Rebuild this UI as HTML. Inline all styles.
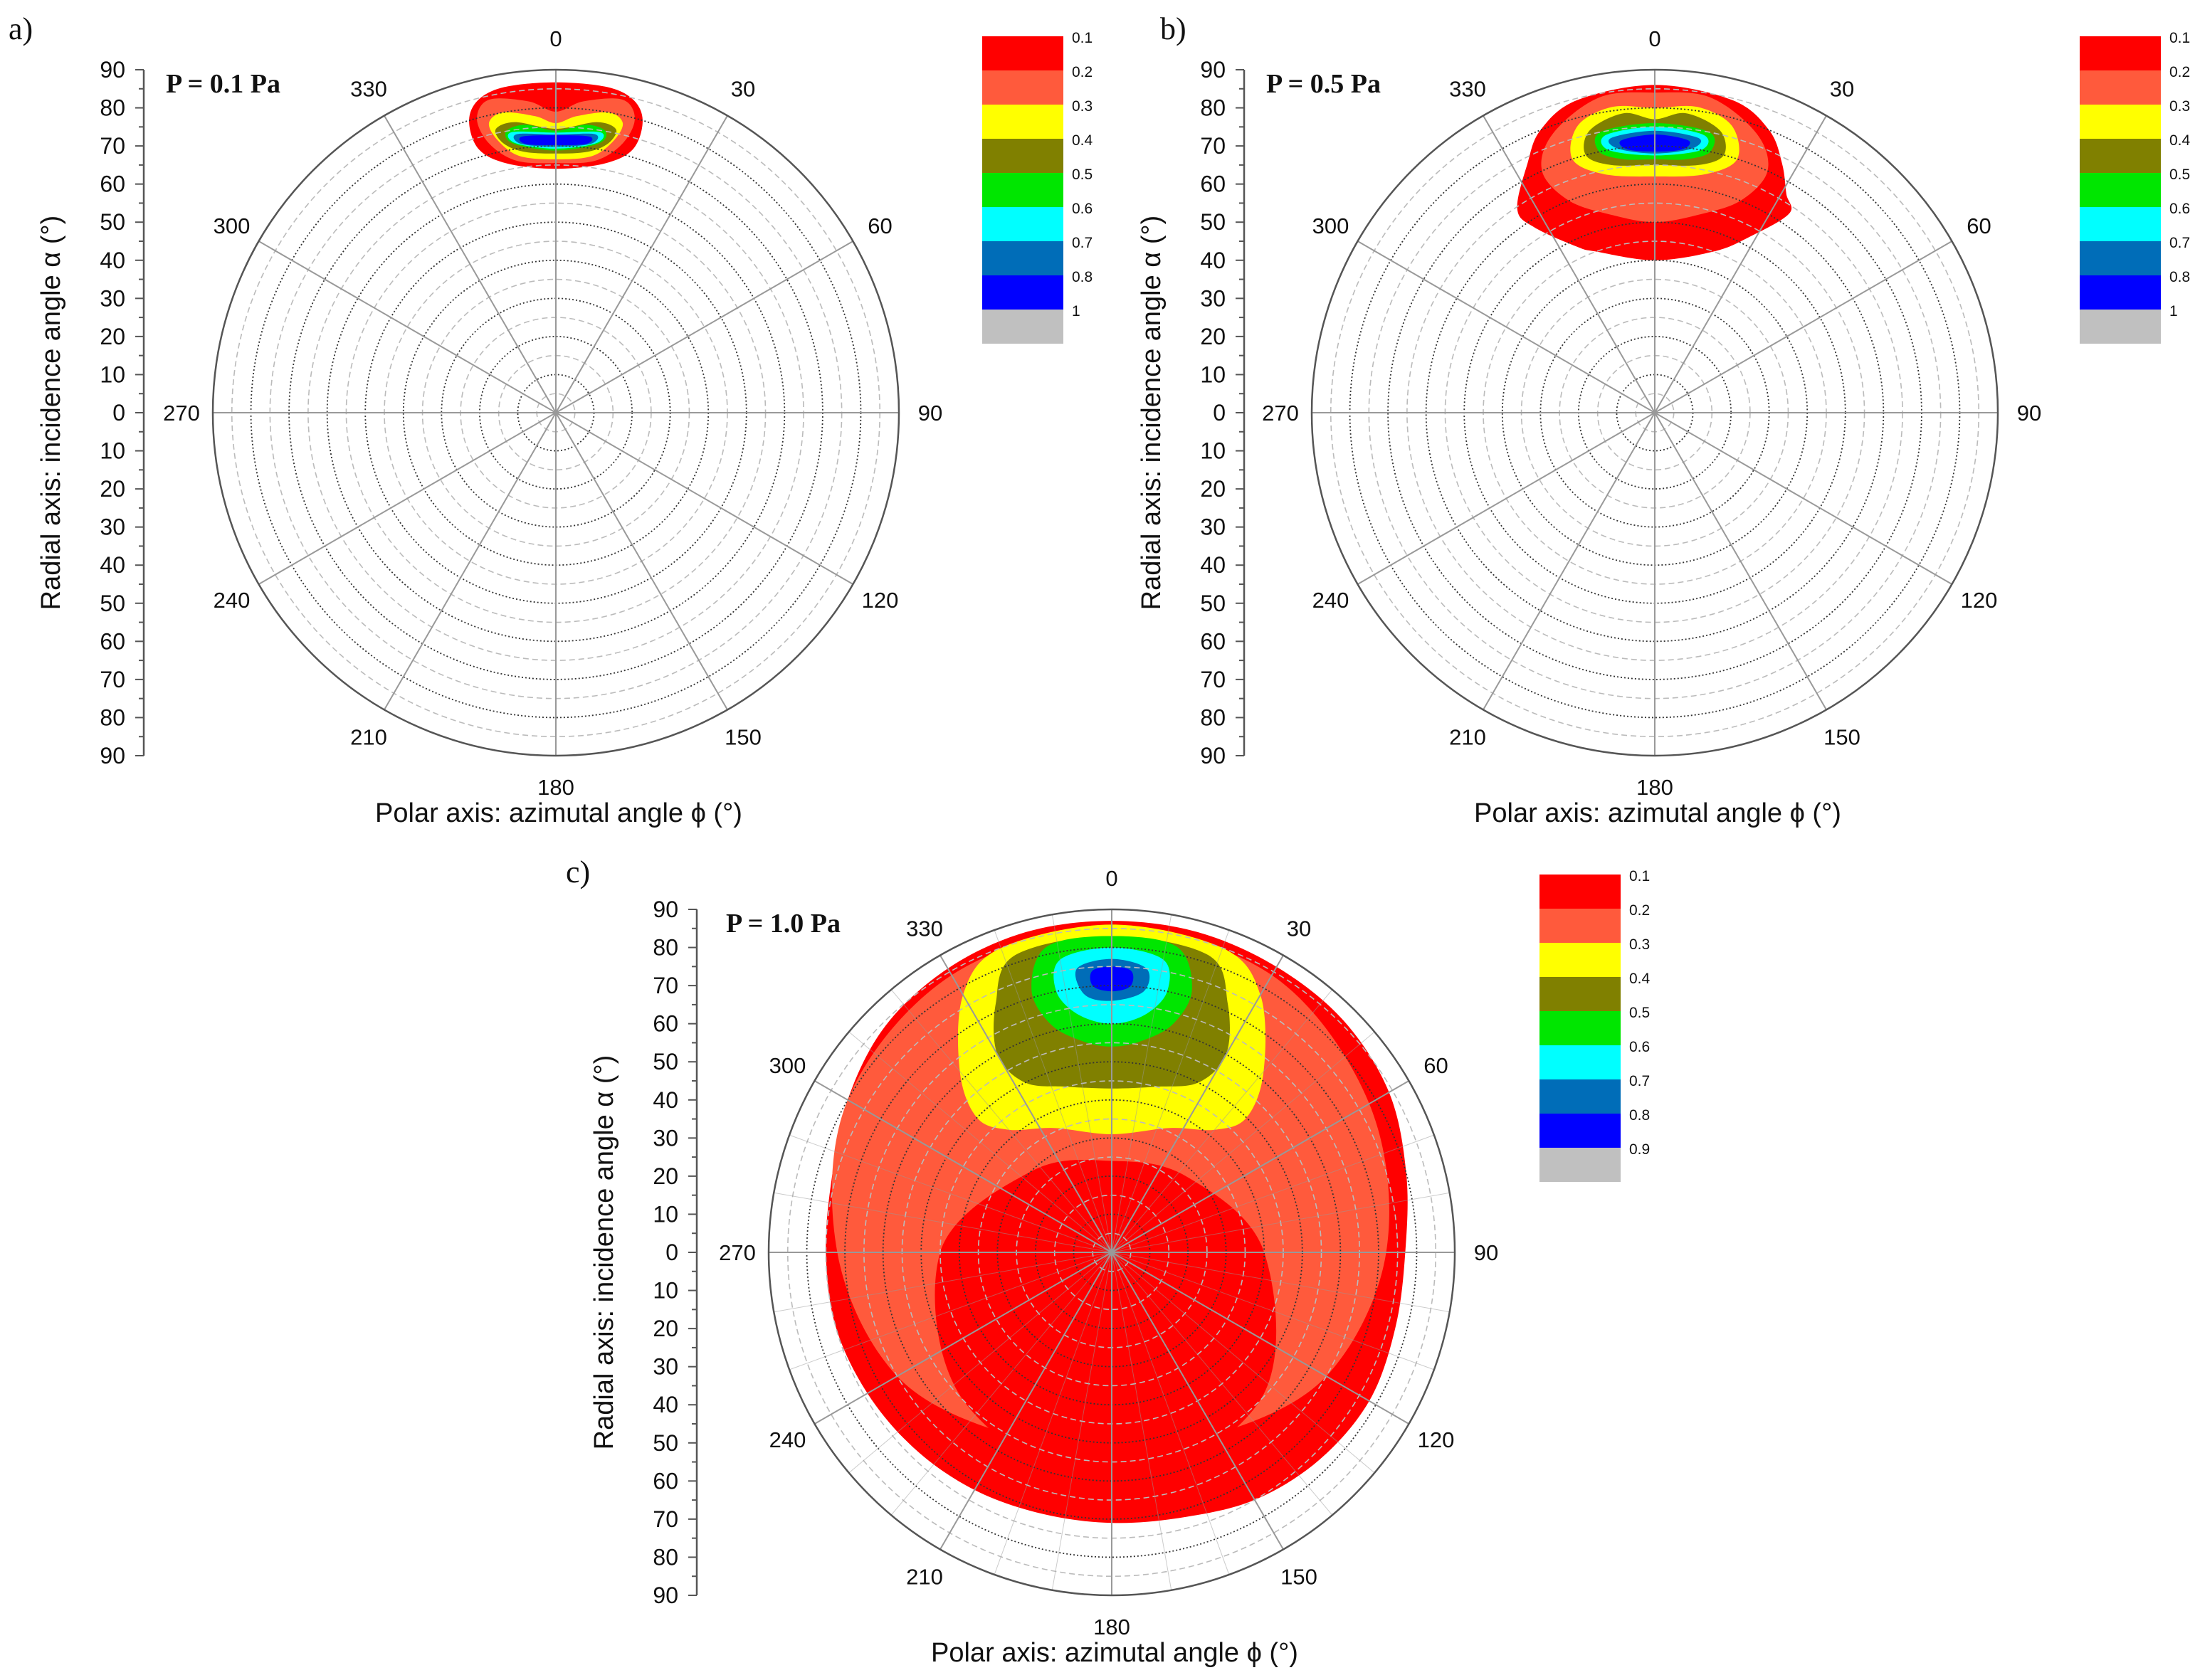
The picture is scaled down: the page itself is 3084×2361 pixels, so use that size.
<!DOCTYPE html>
<html><head><meta charset="utf-8"><style>
html,body{margin:0;padding:0;background:#fff}
svg{display:block}
text{font-family:"Liberation Sans",Arial,sans-serif;fill:#111}
.serif{font-family:"Liberation Serif",serif}
</style></head><body>
<svg id="fig" width="3084" height="2361" viewBox="0 0 3084 2361" xmlns="http://www.w3.org/2000/svg"></svg>
<script>
// ---------- data ----------
const levelColors = ["#ff0000","#ff5a3c","#ffff00","#808000","#00e600","#00ffff","#006db8","#0000ff","#c0c0c0"];
const levelLabelsAB = ["0.1","0.2","0.3","0.4","0.5","0.6","0.7","0.8","1"];
const levelLabelsC = ["0.1","0.2","0.3","0.4","0.5","0.6","0.7","0.8","0.9"];
const radialTicks = [90,80,70,60,50,40,30,20,10,0,10,20,30,40,50,60,70,80,90];
const angleTicks = [0,30,60,90,120,150,180,210,240,270,300,330];

// contours: [levelIndex, [[phi, alpha], ...]]  (drawn in order)
const contoursA = [
 [0, [[0,86.7],[9,86.5],[14,84.5],[16.6,79.7],[16.3,72],[11,66.6],[0,64],[-11,66.6],[-16.3,72],[-16.6,79.7],[-14,84.5],[-9,86.5]]],
 [1, [[0,79],[5,82],[12,84],[15,80],[14,73],[9,67],[0,65.5],[-9,67],[-14,73],[-15,80],[-12,84],[-5,82]]],
 [2, [[0,76],[4,78],[10,80],[13,78],[12,73],[8,68],[0,66.5],[-8,68],[-12,73],[-13,78],[-10,80],[-4,78]]],
 [3, [[0,74.5],[8,77],[12,76],[11,72],[7,69],[0,68],[-7,69],[-11,72],[-12,76],[-8,77]]],
 [4, [[0,74],[6,76],[10,75],[9,71.5],[0,68.8],[-9,71.5],[-10,75],[-6,76]]],
 [5, [[0,73.5],[9,74.5],[8.5,71.5],[0,69.3],[-8.5,71.5],[-9,74.5]]],
 [6, [[0,73],[8,73.8],[7.5,71.2],[0,69.8],[-7.5,71.2],[-8,73.8]]],
 [7, [[0,72.8],[7,73],[6.5,71],[0,70.2],[-6.5,71],[-7,73]]]
];
const contoursB = [
 [0, [[0,86],[14,84.5],[22,80],[27,73.5],[31,67],[34,63],[28,52],[20,45],[0,40],[-20,45],[-25,48],[-33,58],[-34,64.5],[-27,73.5],[-22,80],[-14,84.5]]],
 [1, [[0,84],[10,84],[20,78],[25,70],[22,60],[12,53],[0,50],[-12,53],[-22,60],[-25,70],[-20,78],[-10,84]]],
 [2, [[0,80],[8,81],[15,78],[18,70],[12,64],[0,62],[-12,64],[-18,70],[-15,78],[-8,81]]],
 [3, [[0,77],[6,79],[13,76],[15,70],[10,66],[0,65],[-10,66],[-15,70],[-13,76],[-6,79]]],
 [4, [[0,76],[11,75],[12,70],[7,67],[0,66.5],[-7,67],[-12,70],[-11,75]]],
 [5, [[0,75],[10,74],[10,70],[0,67.5],[-10,70],[-10,74]]],
 [6, [[0,74],[9,73],[8,70],[0,68],[-8,70],[-9,73]]],
 [7, [[0,73],[7,72],[6,69.5],[0,68.5],[-6,69.5],[-7,72]]]
];
const contoursC = [
 [0, [[0,87],[15,87],[30,86.5],[45,86],[60,84],[75,80],[90,77],[105,77],[120,78],[135,77],[150,75],[165,72],[180,71],[195,71],[210,72],[225,73],[240,74],[255,75],[270,75],[285,76],[300,80],[315,84],[330,86],[345,87]]],
 [1, [[0,85],[30,84],[60,78],[90,72],[120,65],[150,55],[180,50],[210,55],[240,65],[270,72],[300,80],[330,84]]],
 [0, [[0,24],[45,28],[90,40],[135,55],[180,62],[225,55],[270,45],[315,30]]],
 [2, [[0,86],[20,85],[30,78],[40,62],[45,50],[40,42],[25,36],[0,31],[-25,36],[-40,42],[-45,50],[-40,62],[-30,78],[-20,85]]],
 [3, [[0,83],[18,82],[25,72],[30,60],[27,50],[15,45],[0,43],[-15,45],[-27,50],[-30,60],[-25,72],[-18,82]]],
 [4, [[0,83],[12,82],[17,72],[15,62],[8,56],[0,54],[-8,56],[-15,62],[-17,72],[-12,82]]],
 [5, [[0,80],[10,78],[12,70],[8,63],[0,60],[-8,63],[-12,70],[-10,78]]],
 [6, [[0,77],[7,75],[7,69],[0,66],[-6,68],[-7,75]]],
 [7, [[0,75],[4,74],[4,70],[0,68.5],[-4,70],[-4,74]]]
];

// ---------- drawing ----------
const NS = "http://www.w3.org/2000/svg";
const svg = document.getElementById("fig");
function el(tag, attrs, parent, txt){
  const e = document.createElementNS(NS, tag);
  for (const k in attrs) e.setAttribute(k, attrs[k]);
  if (txt !== undefined) e.textContent = txt;
  (parent || svg).appendChild(e);
  return e;
}
const R = 482;
function polar(cx, cy, phi, alpha){
  const r = alpha / 90 * R, a = phi * Math.PI / 180;
  return [cx + r * Math.sin(a), cy - r * Math.cos(a)];
}
function smoothPath(pts){
  const n = pts.length; let d = "M" + pts[0][0].toFixed(1) + "," + pts[0][1].toFixed(1);
  for (let i = 0; i < n; i++){
    const p0 = pts[(i - 1 + n) % n], p1 = pts[i], p2 = pts[(i + 1) % n], p3 = pts[(i + 2) % n];
    const c1 = [p1[0] + (p2[0] - p0[0]) / 6, p1[1] + (p2[1] - p0[1]) / 6];
    const c2 = [p2[0] - (p3[0] - p1[0]) / 6, p2[1] - (p3[1] - p1[1]) / 6];
    d += "C" + c1.map(v => v.toFixed(1)).join(",") + " " + c2.map(v => v.toFixed(1)).join(",") + " " + p2[0].toFixed(1) + "," + p2[1].toFixed(1);
  }
  return d + "Z";
}

function drawPanel(p){
  const g = el("g", {});
  
  
  const cx = p.cx, cy = p.cy;

  const hm = el("g", {}, g);
  
  
  p.contours.forEach((c, i) => {
    const pts = c[1].map(q => polar(cx, cy, q[0], q[1]));
    const path = el("path", {d: smoothPath(pts), fill: levelColors[c[0]], stroke: "none"}, hm);
    
    
  });

  for (let k = 1; k <= 17; k++){
    const rr = k * 5 / 90 * R;
    const major = k % 2 === 0;
    const c = el("circle", {cx, cy, r: rr, fill: "none",
      stroke: major ? "#333" : "#bbb", "stroke-width": major ? 1.8 : 1.6,
      "stroke-dasharray": major ? "2 3" : "8 5"}, g);
    
    
  }
  if (p.fineSpokes){
    for (let a = 0; a < 360; a += 10){
      if (a % 30 === 0) continue;
      const e = polar(cx, cy, a, 90);
      const ln = el("line", {x1: cx, y1: cy, x2: e[0], y2: e[1], stroke: "#999", "stroke-width": 1, opacity: 0.5}, g);
      
      
    }
  }
  angleTicks.forEach(a => {
    const e = polar(cx, cy, a, 90);
    const ln = el("line", {x1: cx, y1: cy, x2: e[0], y2: e[1], stroke: "#999", "stroke-width": 2}, g);
    
    
    const t = polar(cx, cy, a, 90 * (R + 44) / R);
    const tx = el("text", {x: t[0], y: t[1] + 11, "font-size": 31, "text-anchor": "middle"}, g, String(a));
    
    
  });
  const oc = el("circle", {cx, cy, r: R, fill: "none", stroke: "#555", "stroke-width": 2.5}, g);
  
  
  if (p.centerDot){
    const cd = el("circle", {cx, cy, r: 5, fill: "#999"}, g);
    
    
  }

  const ax = p.axisX, top = cy - R, step = R / 9;
  const axl = el("line", {x1: ax, y1: top, x2: ax, y2: cy + R, stroke: "#555", "stroke-width": 2.5}, g);
  
  
  for (let i = 0; i <= 36; i++){
    const y = top + i * step / 2;
    const tk = el("line", {x1: ax - (i % 2 === 0 ? 12 : 7), y1: y, x2: ax, y2: y, stroke: "#555", "stroke-width": 2}, g);
    
    
  }
  radialTicks.forEach((v, i) => {
    const y = top + i * step;
    const tx = el("text", {x: ax - 26, y: y + 11, "font-size": 32, "text-anchor": "end"}, g, String(v));
    
    
  });
  const yt = el("text", {x: 0, y: 0, "font-size": 38, "text-anchor": "middle", transform: "translate(" + (ax - 118) + "," + cy + ") rotate(-90)"}, g, "Radial axis: incidence angle \u03b1 (\u00b0)");
  
  
  const xt = el("text", {x: cx + 4, y: cy + R + 93, "font-size": 38, "text-anchor": "middle"}, g, "Polar axis: azimutal angle \u03d5 (\u00b0)");
  
  

  const pl = el("text", {x: p.pX, y: top + 32, "font-size": 38, "font-weight": "bold", "class": "serif"}, g, p.pLabel);
  
  
  const lt = el("text", {x: p.letterX, y: p.letterY, "font-size": 44, "class": "serif"}, g, p.letter);
  
  

  const cb = el("g", {}, g);
  
  
  levelColors.forEach((col, i) => {
    const r = el("rect", {x: p.cbX, y: p.cbY + i * 48, width: 114, height: 48, fill: col}, cb);
    
    
    const t = el("text", {x: p.cbX + 126, y: p.cbY + i * 48 + 9, "font-size": 21}, cb, p.cbLabels[i]);
    
    
  });
}

drawPanel({name: "panel-a", cx: 781, cy: 580, axisX: 202, contours: contoursA, pLabel: "P = 0.1 Pa", pX: 233,
  letter: "a)", letterX: 12, letterY: 55, cbX: 1380, cbY: 51, cbLabels: levelLabelsAB});
drawPanel({name: "panel-b", cx: 2325, cy: 580, axisX: 1748, contours: contoursB, pLabel: "P = 0.5 Pa", pX: 1779,
  letter: "b)", letterX: 1630, letterY: 55, cbX: 2922, cbY: 51, cbLabels: levelLabelsAB});
drawPanel({name: "panel-c", cx: 1562, cy: 1760, axisX: 979, contours: contoursC, pLabel: "P = 1.0 Pa", pX: 1020,
  letter: "c)", letterX: 795, letterY: 1240, cbX: 2163, cbY: 1229, cbLabels: levelLabelsC, fineSpokes: true, centerDot: true});
</script>
</body></html>
